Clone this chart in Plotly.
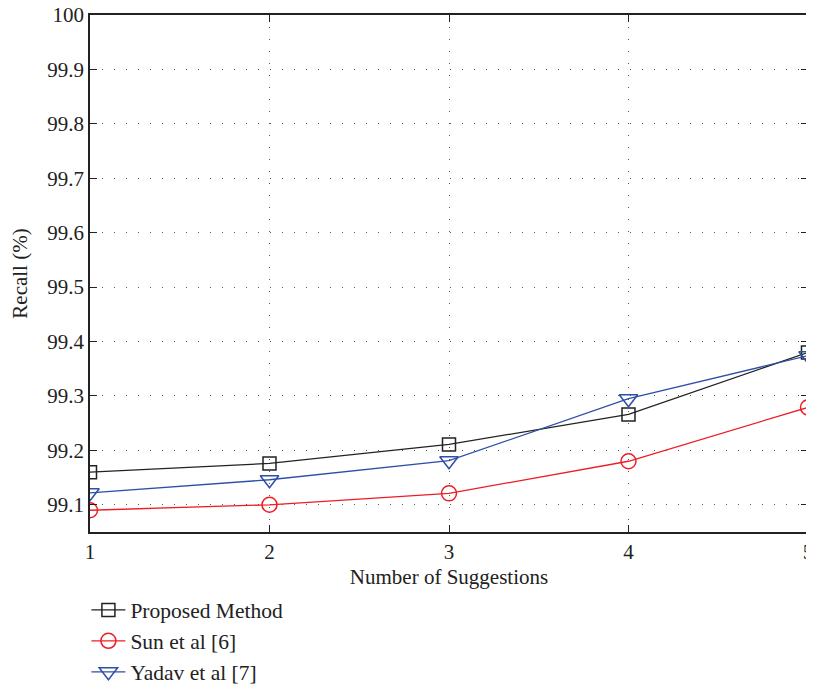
import plotly.graph_objects as go

suggestions = [1, 2, 3, 4, 5]
proposed = [99.16, 99.176, 99.211, 99.266, 99.38]
sun = [99.09, 99.10, 99.121, 99.18, 99.279]
yadav = [99.122, 99.146, 99.181, 99.295, 99.374]
y_tick_vals = [99.1, 99.2, 99.3, 99.4, 99.5, 99.6, 99.7, 99.8, 99.9, 100]
y_tick_text = ["99.1", "99.2", "99.3", "99.4", "99.5", "99.6", "99.7", "99.8", "99.9", "100"]

FONT = "Liberation Serif, Times New Roman, serif"

fig = go.Figure()
fig.add_trace(go.Scatter(x=suggestions, y=proposed, mode="lines+markers", name="Proposed Method",
                         line=dict(color="#222222", width=1.3),
                         marker=dict(symbol="square-open", size=13, color="#222222", line=dict(width=1.5))))
fig.add_trace(go.Scatter(x=suggestions, y=sun, mode="lines+markers", name="Sun et al [6]",
                         line=dict(color="#ee1c25", width=1.3),
                         marker=dict(symbol="circle-open", size=15, color="#ee1c25", line=dict(width=1.5))))
fig.add_trace(go.Scatter(x=suggestions, y=yadav, mode="lines+markers", name="Yadav et al [7]",
                         line=dict(color="#2e4fa8", width=1.3),
                         marker=dict(symbol="triangle-down-open", size=16, color="#2e4fa8", line=dict(width=1.5))))

grid_style = dict(showgrid=True, gridcolor="#555555", griddash="1px,11px", gridwidth=1.3)

fig.update_layout(
    width=806, height=680,
    margin=dict(l=82, r=6, t=7, b=156),
    paper_bgcolor="white", plot_bgcolor="white",
    font=dict(family=FONT, size=21, color="#222222"),
    showlegend=True,
    legend=dict(x=-0.005, y=0.145, xanchor="left", yanchor="top", yref="container", orientation="v",
                font=dict(family=FONT, size=21.5, color="#222222"), tracegroupgap=0,
                itemwidth=34, bgcolor="rgba(0,0,0,0)"),
    xaxis=dict(range=[1, 5], tickvals=suggestions, ticks="inside", ticklen=7, tickcolor="#222222",
               showline=True, linecolor="#222222", linewidth=1.5, mirror="ticks",
               zeroline=False, tickfont=dict(size=21), automargin=False, ticklabeloverflow="allow",
               title=dict(text="Number of Suggestions", font=dict(size=21), standoff=8),
               **grid_style),
    yaxis=dict(range=[99.05, 100], tickvals=y_tick_vals, ticktext=y_tick_text, ticks="inside", ticklen=7,
               tickcolor="#222222",
               showline=True, linecolor="#222222", linewidth=1.5, mirror="ticks",
               zeroline=False, tickfont=dict(size=21), automargin=False, ticklabeloverflow="allow",
               title=dict(text="Recall (%)", font=dict(size=21), standoff=15),
               **grid_style),
)

fig.write_html("out.html")
